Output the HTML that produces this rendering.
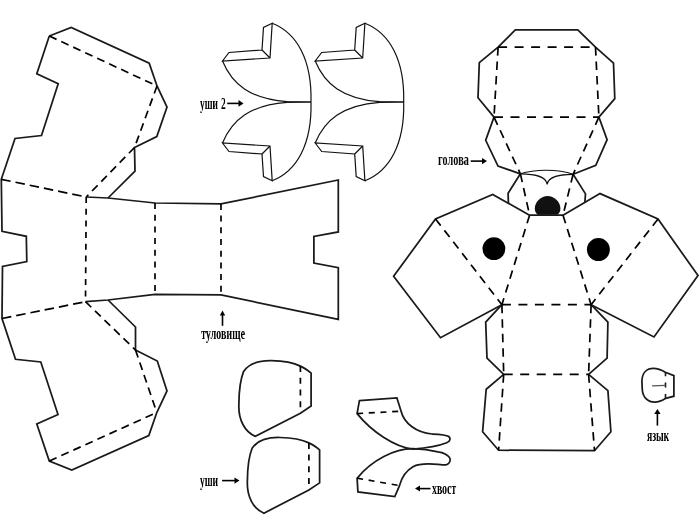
<!DOCTYPE html>
<html><head><meta charset="utf-8">
<style>
html,body{margin:0;padding:0;background:#fff;}
body{width:700px;height:527px;overflow:hidden;position:relative;}
svg{position:absolute;left:0;top:0;}
.s{fill:none;stroke:#1a1a1a;stroke-width:1.75;stroke-linejoin:miter;stroke-linecap:butt;}
.d{fill:none;stroke:#000;stroke-width:1.7;stroke-dasharray:6 5.7;}
.d8{fill:none;stroke:#000;stroke-width:1.7;stroke-dasharray:8 5.2;}
.d9{fill:none;stroke:#000;stroke-width:1.7;stroke-dasharray:9.5 5;}
.dh{fill:none;stroke:#000;stroke-width:1.7;stroke-dasharray:9 7.5;}
.dv{fill:none;stroke:#000;stroke-width:1.7;stroke-dasharray:8.5 6;}
.t{fill:none;stroke:#111;stroke-width:1.2;stroke-linejoin:miter;}
.lbl{position:absolute;will-change:transform;font-family:"Liberation Serif",serif;font-weight:bold;color:#000;white-space:nowrap;transform-origin:0 0;line-height:1;}
</style></head>
<body>
<svg width="700" height="527" viewBox="0 0 700 527">
<!-- BODY (туловище) -->
<g id="body">
<path class="s" d="M49.3 36 L71.2 27.5 L149.2 63.2 L157 86 L167 107 L156.8 136.5 L134.5 147.5 L135 171.2 L108 198"/>
<path class="s" d="M49.3 36 L36.8 73.8 L58.2 83.8 L41.5 135.5 L15 138.5 L1.3 179.3 L2 231.3 L26.3 236.3 L26.8 261.5 L2.5 266.5 L2 318.5 L15.5 359.3 L40.8 362 L58 414.5 L36.8 424 L49.3 461 L71.8 470 L148.8 435.5 L156.8 412.5 L167 391 L157.3 361 L135.5 350 L135.5 327 L108 300"/>
<path class="s" d="M86.2 197 L108 198 L155 203 L221 203.9 L338.3 180 L338.3 231.9 L313.9 236.5 L313.9 263.1 L338.3 267.7 L338.3 319.4 L221 294.9 L155 294.5 L108 300 L85.5 301.7"/>
<path class="d8" d="M49.3 36 L157 86"/>
<path class="d8" d="M157 86 L134.5 147.5"/>
<path class="d8" d="M134.5 147.5 L86.2 197"/>
<path class="d9" d="M1.3 179.3 L86.2 197"/>
<path class="d" d="M86.2 197 L85.5 301.7"/>
<path class="d" d="M155 203 L155 294.5"/>
<path class="d" d="M221 203.9 L221 294.9"/>
<path class="d9" d="M2 318.5 L85.5 301.7"/>
<path class="d8" d="M85.5 301.7 L135.5 350"/>
<path class="d8" d="M135.5 350 L156.8 412.5"/>
<path class="d8" d="M49.3 461 L156.8 412.5"/>
</g>
<!-- EARS 2 -->
<defs>
<g id="petal">
<path class="t" d="M272.2 23.3 L263.5 27.5 L262 50 L229 52.5 L222.5 61 L270 58 Z M262 50 L270 58"/>
<path class="t" d="M272.2 23.3 C297 33 312 60 311 102"/>
<path class="t" d="M222.5 61 C232 84 250 99 287 101.7 L311 102"/>
</g>
</defs>
<use href="#petal"/>
<use href="#petal" transform="translate(0 204) scale(1 -1)"/>
<use href="#petal" transform="translate(92.7 0)"/>
<use href="#petal" transform="translate(92.7 204) scale(1 -1)"/>
<!-- HEAD (голова) -->
<g id="head">
<path class="s" d="M494 117.1 L478 97.8 L479.3 62.6 L498.1 47.1 L515.3 29.9 L577.8 29.9 L595.5 47.1 L613.5 63.1 L614.8 98.6 L598.9 117.1"/>
<path class="s" d="M494 117.1 L485.7 140.3 L498 166.1 L520.4 173.8"/>
<path class="s" d="M598.9 117.1 L607.1 139.6 L595.8 165.3 L573.1 174.3"/>
<path class="dh" d="M498.1 47.1 L595.5 47.1"/>
<path class="dv" d="M498.1 47.1 L494 117.1"/>
<path class="dv" d="M595.5 47.1 L598.9 117.1"/>
<path class="dh" d="M494 117.1 L598.9 117.1"/>
<path class="dv" d="M494 117.1 L520.4 173.8"/>
<path class="dv" d="M598.9 117.1 L573.1 174.3"/>
<path class="t" d="M520.4 173.8 C535 169 558 169 573.1 174.3"/>
<path class="t" d="M520.4 173.8 C535 174 546 176 547.2 184.4 C548 176 560 174.5 573.1 174.3"/>
<path class="s" d="M520.4 173.8 L508.1 193.3 L508.4 203"/>
<path class="s" d="M573.1 174.3 L585.5 193.9 L584.8 203"/>
<path class="dv" d="M520.4 173.8 L529.6 215.2"/>
<path class="dv" d="M573.1 174.3 L563 215.2"/>
<path class="s" d="M529.6 215.2 L563 215.2"/>
<path d="M547.6 196.1 C554 196.1 560.4 201.7 560.4 208.6 C560.4 211.5 559.2 213.5 557.5 214.8 L537.7 214.8 C536 213.5 534.8 211.5 534.8 208.6 C534.8 201.7 541.2 196.1 547.6 196.1 Z" fill="#111"/>
<path class="s" d="M529.6 215.2 L492.7 194.4 L435.5 218.9 L393.6 276.3 L440.5 337.7 L501.9 304.7"/>
<path class="s" d="M563 215.2 L600 193.6 L658 219 L698 275.6 L654 337 L591.1 304.7"/>
<path class="dv" d="M435.5 218.9 L501.9 304.7"/>
<path class="dv" d="M529.6 215.2 L501.9 304.7"/>
<path class="dv" d="M658 219 L591.1 304.7"/>
<path class="dv" d="M563 215.2 L591.1 304.7"/>
<circle cx="493.9" cy="248.7" r="11.4" fill="#000"/>
<circle cx="598.4" cy="249.6" r="11.5" fill="#000"/>
<path class="dh" d="M501.9 304.7 L591.1 304.7"/>
<path class="s" d="M501.9 304.7 L485.7 322.1 L487 358.1 L503.7 374.3"/>
<path class="s" d="M591.1 304.7 L607.9 322.1 L607.1 358.1 L588.6 374.3"/>
<path class="dv" d="M501.9 304.7 L503.7 374.3"/>
<path class="dv" d="M591.1 304.7 L588.6 374.3"/>
<path class="dh" d="M503.7 374.3 L588.6 374.3"/>
<path class="s" d="M503.7 374.3 L486.2 389.3 L482.6 431.7 L498.6 450.2 L594.5 450.7 L610.9 431.7 L607.9 390.6 L588.6 374.3"/>
<path class="dv" d="M503.7 374.3 L498.6 450.2"/>
<path class="dv" d="M588.6 374.3 L594.5 450.7"/>
</g>
<!-- EARS (уши) -->
<defs>
<g id="ear">
<path class="s" d="M311.1 373.1 L311.1 406.1 L300.4 413.2 L255.4 436.4 C245 432 238 420 238.9 403.6 C239 390 241 378 243.6 371.4 C250 362 262 360.5 271.4 360.7 C283 361 294 363 300.4 366.1 C305 368 308 370.5 311.1 373.1 Z"/>
<path class="d" d="M300.4 366.1 L300.4 413.2"/>
</g>
</defs>
<use href="#ear"/>
<use href="#ear" transform="translate(8.5 76.8)"/>
<!-- TAIL (хвост) -->
<path class="s" d="M359.4 400.7 L396.9 397.9 L401.1 411.2 C404 423 416 432.5 432 434 C440 434.3 446 434.5 448.8 436.5 C451 438.5 450 441.5 446.7 442.8 C440 445.5 430 447.8 412.9 449.2 C395 447 372 432 357.1 413.6 Z"/>
<path class="d" d="M357.1 413.6 L401.1 411.2"/>
<path class="s" d="M357.1 478.2 L357.9 491.9 L394.8 496.6 L399.5 485.6 C401.5 478 405.5 471 413 466.7 C419 463.5 428 463.5 438 464.4 C442 464.8 445 465.5 447 464.5 C450 463 451 459.5 449.5 457.5 C447.5 454.5 443 452.5 438 451.8 C430 450 422 449 412.9 448.7 C395 448.5 372 460 357.1 478.2 Z"/>
<path class="d" d="M357.1 478.2 L399.5 485.6"/>
<!-- TONGUE (язык) -->
<path class="s" d="M673.9 375.7 L673.9 396.2 L665.8 398.3 C662 400.8 658.5 402.2 654.7 402.2 C648 402.2 643 397.5 642.3 390 L641.9 381.5 C642 372.5 647 368.4 653.4 368.4 C658 368.4 662 370.3 665.3 372.3 Z"/>
<path d="M665.5 372.3 L665.5 398.3" fill="none" stroke="#1a1a1a" stroke-width="1.6" stroke-dasharray="4 6.3 5 6.5 6"/>
<path d="M652.1 385.8 L665.3 385.3" stroke="#555" stroke-width="1.3"/>
<!-- ARROWS -->
<g stroke="#000" stroke-width="1.6" fill="#000">
<path d="M227.2 103.4 L239.5 103.4"/><path d="M243.5 103.4 L238.5 100 L238.5 106.8 Z" stroke="none"/>
<path d="M222.5 325.8 L222.5 314"/><path d="M222.5 310.5 L219.8 315.5 L225.2 315.5 Z" stroke="none"/>
<path d="M222.1 480.6 L235.5 480.6"/><path d="M239.5 480.6 L234.5 477.4 L234.5 483.8 Z" stroke="none"/>
<path d="M470.7 161.1 L483 161.1"/><path d="M487 161.1 L482 157.9 L482 164.3 Z" stroke="none"/>
<path d="M657.4 425.6 L657.4 412.5"/><path d="M657.4 409 L654.2 414 L660.6 414 Z" stroke="none"/>
<path d="M430.5 488.6 L419 488.6"/><path d="M415 488.6 L420 485.6 L420 491.6 Z" stroke="none"/>
</g>
</svg>
<div class="lbl" id="l1" style="left:200px;top:94.8px;font-size:17px;transform:scaleX(0.55)">уши</div>
<div class="lbl" id="l7" style="left:221.3px;top:95.8px;font-size:16px;transform:scaleX(0.6)">2</div>
<div class="lbl" id="l2" style="left:201px;top:324.7px;font-size:17px;transform:scaleX(0.589)">туловище</div>
<div class="lbl" id="l3" style="left:437.5px;top:151px;font-size:17px;transform:scaleX(0.607)">голова</div>
<div class="lbl" id="l4" style="left:647px;top:427px;font-size:17px;transform:scaleX(0.565)">язык</div>
<div class="lbl" id="l5" style="left:200px;top:471.5px;font-size:17px;transform:scaleX(0.555)">уши</div>
<div class="lbl" id="l6" style="left:432px;top:479.5px;font-size:17px;transform:scaleX(0.577)">хвост</div>
</body></html>
